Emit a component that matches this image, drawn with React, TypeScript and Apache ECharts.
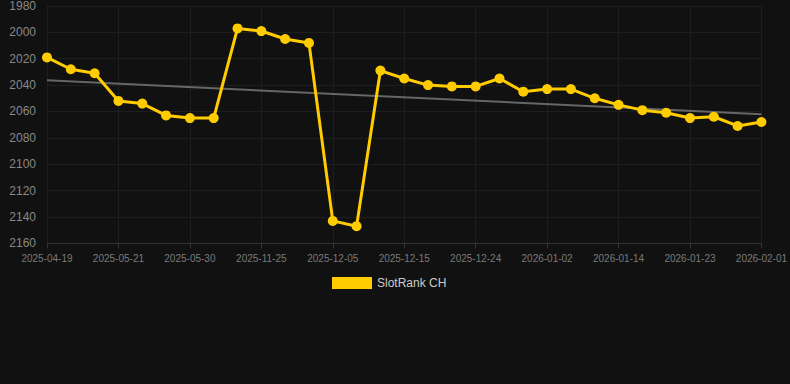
import React, { useEffect, useRef } from "react";
import * as echarts from "echarts";

const categories: string[] = [
  "2025-04-19", "2025-04-30", "2025-05-10", "2025-05-21", "2025-05-24", "2025-05-27",
  "2025-05-30", "2025-06-03", "2025-11-22", "2025-11-25", "2025-11-28", "2025-12-02",
  "2025-12-05", "2025-12-09", "2025-12-12", "2025-12-15", "2025-12-18", "2025-12-21",
  "2025-12-24", "2025-12-27", "2025-12-30", "2026-01-02", "2026-01-06", "2026-01-10",
  "2026-01-14", "2026-01-17", "2026-01-20", "2026-01-23", "2026-01-26", "2026-01-29",
  "2026-02-01",
];

const slotRankCH: number[] = [
  2019, 2028, 2031, 2052, 2054, 2063, 2065, 2065, 1997, 1999, 2005, 2008,
  2143, 2147, 2029, 2035, 2040, 2041, 2041, 2035, 2045, 2043, 2043, 2050,
  2055, 2059, 2061, 2065, 2064, 2071, 2068,
];

const trendStart = 2036.4;
const trendEnd = 2062.1;

const yMin = 1980;
const yMax = 2160;
const yInterval = 20;

export default function App() {
  const ref = useRef<HTMLDivElement>(null);
  useEffect(() => {
    if (!ref.current) return;
    const chart = echarts.init(ref.current, undefined, { renderer: "svg" });
    const font = "'Liberation Sans', Arial, sans-serif";
    chart.setOption({
      animation: false,
      backgroundColor: "#111111",
      textStyle: { fontFamily: font },
      grid: { left: 47, right: 28, top: 5.5, bottom: 140.7, containLabel: false },
      legend: {
        data: ["SlotRank CH"],
        top: 277,
        left: 332,
        padding: 0,
        icon: "rect",
        itemWidth: 40,
        itemHeight: 12,
        itemGap: 10,
        textStyle: { color: "#cccccc", fontSize: 12, fontFamily: font },
      },
      xAxis: {
        type: "category",
        data: categories,
        boundaryGap: false,
        axisLine: { show: true, lineStyle: { color: "#333333" } },
        axisTick: { show: true, interval: 2, lineStyle: { color: "#333333" } },
        axisLabel: { interval: 2, color: "#7a7a7a", fontSize: 10, margin: 10, fontFamily: font },
        splitLine: { show: true, interval: 2, lineStyle: { color: "#1e1e1e" } },
      },
      yAxis: {
        type: "value",
        inverse: true,
        min: yMin,
        max: yMax,
        interval: yInterval,
        axisLine: { show: false },
        axisTick: { show: false },
        axisLabel: {
          color: "#888888",
          fontSize: 12,
          margin: 11,
          fontFamily: font,
          formatter: (v: number) => String(v),
        },
        splitLine: { show: true, lineStyle: { color: "#1e1e1e" } },
      },
      series: [
        {
          name: "SlotRank CH",
          type: "line",
          data: slotRankCH,
          color: "#ffcc00",
          lineStyle: { color: "#ffcc00", width: 3 },
          itemStyle: { color: "#ffcc00" },
          symbol: "circle",
          symbolSize: 10,
          z: 3,
        },
        {
          name: "Trend",
          type: "line",
          data: [
            [categories[0], trendStart],
            [categories[categories.length - 1], trendEnd],
          ],
          lineStyle: { color: "#666666", width: 2 },
          itemStyle: { color: "#666666" },
          symbol: "none",
          z: 2,
        },
      ],
    });
    return () => chart.dispose();
  }, []);
  return (
    <div
      ref={ref}
      style={{ position: "fixed", left: 0, top: 0, width: 790, height: 384 }}
    />
  );
}
